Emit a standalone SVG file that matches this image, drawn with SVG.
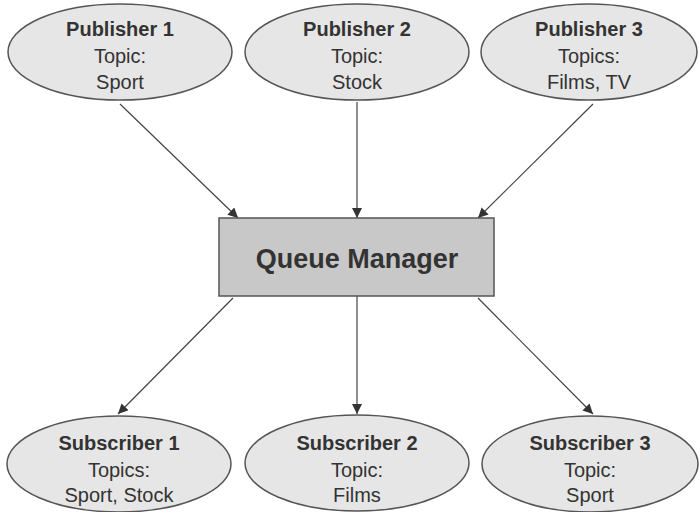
<svg xmlns="http://www.w3.org/2000/svg" width="699" height="512" viewBox="0 0 699 512">
<defs>
<marker id="arr" viewBox="0 0 10 10" refX="10" refY="5" markerWidth="10" markerHeight="10" markerUnits="userSpaceOnUse" orient="auto">
<path d="M0,0 L10,5 L0,10 z" fill="#333"/>
</marker>
<style>
.node ellipse{fill:#e6e6e6;stroke:#555;stroke-width:1.5}
.t{font-family:"Liberation Sans",Arial,sans-serif;fill:#333;text-anchor:middle}
.b{font-weight:bold;font-size:20px}
.n{font-size:20px}
.conn line{stroke:#444;stroke-width:1.2;marker-end:url(#arr)}
</style>
</defs>
<rect width="699" height="512" fill="#fff"/>
<g class="conn" id="connectors">
<line x1="120" y1="104" x2="238" y2="218"/>
<line x1="357" y1="102" x2="357" y2="218"/>
<line x1="593" y1="104" x2="478" y2="218"/>
<line x1="233" y1="298" x2="118" y2="414"/>
<line x1="357" y1="296" x2="357" y2="414"/>
<line x1="478" y1="298" x2="593" y2="414"/>
</g>
<g class="node" id="pub1">
<ellipse cx="120" cy="52" rx="112" ry="48"/>
<text class="t b" x="120" y="36">Publisher 1</text>
<text class="t n" x="120" y="63">Topic:</text>
<text class="t n" x="120" y="89">Sport</text>
</g>
<g class="node" id="pub2">
<ellipse cx="357" cy="52" rx="112" ry="48"/>
<text class="t b" x="357" y="36">Publisher 2</text>
<text class="t n" x="357" y="63">Topic:</text>
<text class="t n" x="357" y="89">Stock</text>
</g>
<g class="node" id="pub3">
<ellipse cx="589" cy="52" rx="108" ry="48"/>
<text class="t b" x="589" y="36">Publisher 3</text>
<text class="t n" x="589" y="63">Topics:</text>
<text class="t n" x="589" y="89">Films, TV</text>
</g>
<g class="node" id="qm">
<rect x="219" y="218" width="275" height="78" fill="#c8c8c8" stroke="#555" stroke-width="1.5"/>
<text class="t" x="357" y="268" font-size="27" font-weight="bold">Queue Manager</text>
</g>
<g class="node" id="sub1">
<ellipse cx="119" cy="464" rx="112" ry="48"/>
<text class="t b" x="119" y="450">Subscriber 1</text>
<text class="t n" x="119" y="477">Topics:</text>
<text class="t n" x="119" y="502">Sport, Stock</text>
</g>
<g class="node" id="sub2">
<ellipse cx="357" cy="463" rx="112" ry="48"/>
<text class="t b" x="357" y="450">Subscriber 2</text>
<text class="t n" x="357" y="477">Topic:</text>
<text class="t n" x="357" y="502">Films</text>
</g>
<g class="node" id="sub3">
<ellipse cx="590" cy="464" rx="108" ry="48"/>
<text class="t b" x="590" y="450">Subscriber 3</text>
<text class="t n" x="590" y="477">Topic:</text>
<text class="t n" x="590" y="502">Sport</text>
</g>
</svg>
